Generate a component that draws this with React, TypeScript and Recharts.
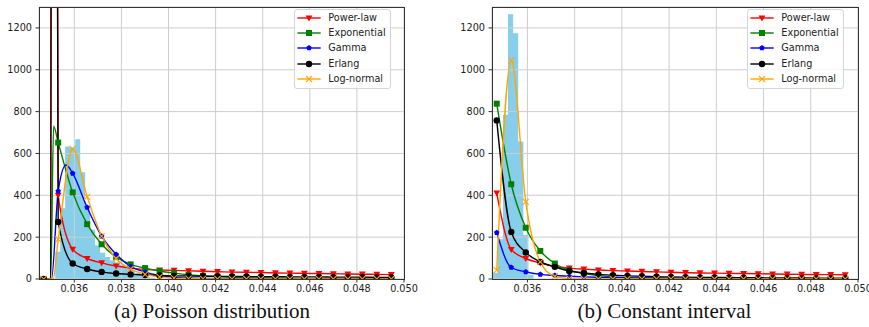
import { ComposedChart, Line, Area, XAxis, YAxis, CartesianGrid } from 'recharts'

// x positions where matplotlib put a marker (markevery)
const MARK_X = [
  0.0347, 0.035315, 0.03593, 0.036545, 0.03716, 0.037775, 0.03839, 0.039005, 0.03962,
  0.040235, 0.04085, 0.041465, 0.04208, 0.042695, 0.04331, 0.043925, 0.04454, 0.045155,
  0.04577, 0.046385, 0.047, 0.047615, 0.04823, 0.048845, 0.04946,
]
const X_TICKS = [0.036, 0.038, 0.04, 0.042, 0.044, 0.046, 0.048, 0.05]
const Y_TICKS = [0, 200, 400, 600, 800, 1000, 1200]

// (a) Poisson distribution: histogram
const POISSON_EDGES = [
  0.03519, 0.0354, 0.03561, 0.03583, 0.03604, 0.03625, 0.03646, 0.03667, 0.03688, 0.03709,
  0.03731, 0.03752, 0.03773, 0.03794, 0.03815, 0.03836, 0.03857, 0.03878, 0.039, 0.03921, 0.03942,
]
const POISSON_HIST = [130, 338, 633, 628, 668, 510, 333, 235, 160, 125, 105, 90, 80, 68, 55, 42, 30, 20, 12, 6]

// (a) fitted curves, values at MARK_X
const POISSON_POWER = [0, 400, 142, 98, 77, 62, 52, 46, 43, 41, 39, 37, 35, 33, 32, 31, 29, 28, 27, 26, 25, 24, 23, 22, 21]
const POISSON_EXP = [0, 652, 414, 262, 166, 105, 70, 52, 38, 28, 20, 15, 11, 8, 6, 5, 4, 3, 2, 2, 1, 1, 1, 1, 0]
const POISSON_GAMMA = [0, 420, 505, 342, 205, 118, 60, 33, 17, 9, 5, 3, 2, 1, 1, 0, 0, 0, 0, 0, 0, 0, 0, 0, 0]
const POISSON_ERLANG = [0, 273, 74, 48, 34, 26, 22, 19, 17, 15, 14, 13, 13, 12, 12, 11, 11, 10, 10, 10, 9, 9, 9, 8, 8]
const POISSON_LOGN = [0, 189, 622, 393, 205, 98, 48, 22, 10, 4, 2, 1, 0, 0, 0, 0, 0, 0, 0, 0, 0, 0, 0, 0, 0]
// curve points between markers (spikes / peaks)
const POISSON_POWER_EXTRA: [number, number][] = [[0.035, 0], [0.03503, 4000], [0.03522, 4000]]
const POISSON_EXP_EXTRA: [number, number][] = [[0.035, 0], [0.03512, 730]]
const POISSON_GAMMA_EXTRA: [number, number][] = [[0.03503, 0], [0.03565, 545]]
const POISSON_ERLANG_EXTRA: [number, number][] = [[0.035, 0], [0.03503, 4000], [0.03522, 4000]]
const POISSON_LOGN_EXTRA: [number, number][] = [[0.0351, 0]]

// (b) Constant interval: histogram
const CONST_EDGES = [0.034525, 0.034742, 0.034962, 0.035178, 0.035394, 0.03561, 0.035826, 0.036042, 0.036258]
const CONST_HIST = [30, 190, 785, 1265, 1174, 657, 210, 20]

// (b) fitted curves, values at MARK_X
const CONST_POWER = [410, 141, 98, 76, 60, 52, 47, 43, 40, 38, 36, 34, 32, 30, 29, 28, 27, 26, 25, 24, 23, 22, 21, 21, 20]
const CONST_EXP = [838, 453, 245, 134, 74, 42, 26, 16, 10, 6, 4, 3, 2, 1, 1, 1, 0, 0, 0, 0, 0, 0, 0, 0, 0]
const CONST_GAMMA = [222, 55, 34, 22, 17, 13, 10, 8, 7, 6, 5, 4, 4, 3, 3, 3, 2, 2, 2, 2, 2, 1, 1, 1, 1]
const CONST_ERLANG = [758, 225, 127, 82, 58, 38, 29, 22, 18, 15, 13, 11, 10, 9, 8, 7, 7, 6, 6, 5, 5, 5, 4, 4, 4]
const CONST_LOGN = [42, 1045, 369, 82, 12, 2, 0, 0, 0, 0, 0, 0, 0, 0, 0, 0, 0, 0, 0, 0, 0, 0, 0, 0, 0]

const SERIES = [
  { name: 'Power-law', color: '#ff0000', marker: 'v' },
  { name: 'Exponential', color: '#008000', marker: 's' },
  { name: 'Gamma', color: '#0000ff', marker: 'p' },
  { name: 'Erlang', color: '#000000', marker: 'o' },
  { name: 'Log-normal', color: '#ffa500', marker: 'x' },
]

const FONT = '"DejaVu Sans", sans-serif'

type Pt = { x: number; y: number; m: boolean }

function buildCurve(ys: number[], extra: [number, number][] = []): Pt[] {
  const pts: Pt[] = MARK_X.map((x, i) => ({ x, y: ys[i], m: true }))
  extra.forEach(([x, y]) => pts.push({ x, y, m: false }))
  return pts.sort((a, b) => a.x - b.x)
}

function buildHist(edges: number[], counts: number[]) {
  return edges.map((x, i) => ({ x, y: i < counts.length ? counts[i] : 0 }))
}

function Marker({ kind, cx, cy, color }: { kind: string; cx: number; cy: number; color: string }) {
  if (kind === 'v')
    return <polygon points={`${cx - 3.4},${cy - 2.6} ${cx + 3.4},${cy - 2.6} ${cx},${cy + 3.4}`} fill={color} />
  if (kind === 's') return <rect x={cx - 3} y={cy - 3} width={6} height={6} fill={color} />
  if (kind === 'p') {
    const pts = [0, 1, 2, 3, 4]
      .map((i) => {
        const a = -Math.PI / 2 + (i * 2 * Math.PI) / 5
        return `${cx + 2.9 * Math.cos(a)},${cy + 2.9 * Math.sin(a)}`
      })
      .join(' ')
    return <polygon points={pts} fill={color} />
  }
  if (kind === 'o') return <circle cx={cx} cy={cy} r={3.2} fill={color} />
  return (
    <g stroke={color} strokeWidth={1.1}>
      <line x1={cx - 3} y1={cy - 3} x2={cx + 3} y2={cy + 3} />
      <line x1={cx - 3} y1={cy + 3} x2={cx + 3} y2={cy - 3} />
    </g>
  )
}

function Legend({ left, top }: { left: number; top: number }) {
  return (
    <div
      style={{
        position: 'absolute', left, top, width: 97, height: 80, boxSizing: 'border-box',
        border: '1px solid #d6d6d6', borderRadius: 3, background: 'rgba(255,255,255,0.8)',
      }}
    >
      {SERIES.map((s, i) => (
        <div key={s.name} style={{ position: 'absolute', left: 0, top: 7.4 + i * 15.4 - 8, height: 16, width: 97 }}>
          <svg width={30} height={16} style={{ position: 'absolute', left: 0, top: 0 }}>
            <line x1={2.4} y1={8} x2={25.7} y2={8} stroke={s.color} strokeWidth={1.4} />
            <Marker kind={s.marker} cx={14} cy={8} color={s.color} />
          </svg>
          <span
            style={{
              position: 'absolute', left: 33, top: 0, lineHeight: '16px',
              fontFamily: FONT, fontSize: 9.7, color: '#222', whiteSpace: 'nowrap',
            }}
          >
            {s.name}
          </span>
        </div>
      ))}
    </div>
  )
}

interface PanelProps {
  left: number
  hist: { x: number; y: number }[]
  curves: Pt[][]
  caption: string
  captionCenter: number
  legendLeft: number
  plotWidth: number
}

function Panel({ left, hist, curves, caption, captionCenter, legendLeft, plotWidth }: PanelProps) {
  const W = 420
  const right = W - 39 - plotWidth
  return (
    <>
      <div style={{ position: 'absolute', left, top: 0, width: W, height: 300 }}>
        <ComposedChart width={W} height={300} margin={{ top: 7, right, bottom: 0, left: 0 }}>
          <XAxis
            dataKey="x"
            type="number"
            domain={[0.0345, 0.05]}
            allowDataOverflow
            ticks={X_TICKS}
            interval={0}
            tickFormatter={(v: number) => v.toFixed(3)}
            height={21}
            tickSize={3.5}
            tickMargin={3}
            axisLine={false}
            tickLine={{ stroke: '#333' }}
            tick={{ fontSize: 9.7, fill: '#222', fontFamily: FONT }}
          />
          <YAxis
            type="number"
            domain={[0, 1300]}
            allowDataOverflow
            ticks={Y_TICKS}
            interval={0}
            width={39}
            tickSize={3.5}
            tickMargin={3.5}
            axisLine={false}
            tickLine={{ stroke: '#333' }}
            tick={{ fontSize: 9.7, fill: '#222', fontFamily: FONT }}
          />
          <Area
            data={hist}
            dataKey="y"
            type="stepAfter"
            stroke="none"
            fill="#87ceeb"
            fillOpacity={1}
            baseValue={0}
            isAnimationActive={false}
            dot={false}
            activeDot={false}
          />
          {/* grid sits over the histogram but under the fitted lines */}
          <CartesianGrid stroke="#cdcdcd" strokeWidth={1} {...({ zIndex: 150 } as any)} />
          {SERIES.map((s, i) => (
            <Line
              key={s.name}
              data={curves[i]}
              dataKey="y"
              type="monotone"
              stroke={s.color}
              strokeWidth={1.4}
              isAnimationActive={false}
              activeDot={false}
              dot={(p: any) =>
                p.payload.m ? (
                  <g key={`${s.name}-${p.index}`}>
                    <Marker kind={s.marker} cx={p.cx} cy={p.cy} color={s.color} />
                  </g>
                ) : (
                  <g key={`${s.name}-${p.index}`} />
                )
              }
            />
          ))}
        </ComposedChart>
        <div
          style={{
            position: 'absolute', left: 39, top: 7, width: plotWidth + 1, height: 273,
            boxSizing: 'border-box', border: '1px solid #333', pointerEvents: 'none',
          }}
        />
      </div>
      <Legend left={legendLeft} top={9.3} />
      <div
        style={{
          position: 'absolute', left: captionCenter - 150, top: 300, width: 300, height: 23,
          lineHeight: '23px', textAlign: 'center', whiteSpace: 'nowrap',
          fontFamily: '"Liberation Serif", "Times New Roman", serif', fontSize: 21, color: '#111',
        }}
      >
        {caption}
      </div>
    </>
  )
}

export default function App() {
  const poissonCurves = [
    buildCurve(POISSON_POWER, POISSON_POWER_EXTRA),
    buildCurve(POISSON_EXP, POISSON_EXP_EXTRA),
    buildCurve(POISSON_GAMMA, POISSON_GAMMA_EXTRA),
    buildCurve(POISSON_ERLANG, POISSON_ERLANG_EXTRA),
    buildCurve(POISSON_LOGN, POISSON_LOGN_EXTRA),
  ]
  const constCurves = [
    buildCurve(CONST_POWER),
    buildCurve(CONST_EXP),
    buildCurve(CONST_GAMMA),
    buildCurve(CONST_ERLANG),
    buildCurve(CONST_LOGN),
  ]
  return (
    <div
      style={{
        position: 'fixed', left: 0, top: 0, width: 869, height: 327,
        overflow: 'hidden', background: '#fff',
      }}
    >
      <Panel
        left={0}
        hist={buildHist(POISSON_EDGES, POISSON_HIST)}
        curves={poissonCurves}
        caption="(a) Poisson distribution"
        captionCenter={212}
        legendLeft={294.3}
        plotWidth={365}
      />
      <Panel
        left={453}
        hist={buildHist(CONST_EDGES, CONST_HIST)}
        curves={constCurves}
        caption="(b) Constant interval"
        captionCenter={664.5}
        legendLeft={747.3}
        plotWidth={366}
      />
    </div>
  )
}
